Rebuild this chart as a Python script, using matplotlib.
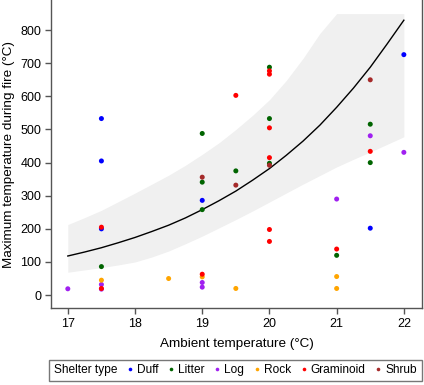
import matplotlib
matplotlib.use('Agg')
import matplotlib.pyplot as plt
from matplotlib.lines import Line2D

plt.rcParams['font.family'] = ['Liberation Sans', 'DejaVu Sans']

# 拟合曲线与置信带
fit_x = [17, 17.25, 17.5, 17.75, 18, 18.25, 18.5, 18.75, 19, 19.25, 19.5,
         19.75, 20, 20.25, 20.5, 20.75, 21, 21.25, 21.5, 21.75, 22]
fit_y = [118, 130, 143, 158, 174, 192, 211, 233, 258, 285, 314,
         347, 382, 422, 465, 513, 567, 625, 688, 758, 830]
band_upper = [213, 234, 256, 282, 308, 335, 362, 392, 425, 460, 500,
              543, 590, 648, 715, 790, 850, 850, 850, 850, 850]
band_lower = [69, 76, 83, 91, 100, 115, 133, 155, 178, 203, 228,
              254, 281, 308, 335, 361, 387, 410, 432, 455, 478]

# 各遮蔽类型的观测点
duff_x = [17.5, 17.5, 17.5, 19, 21.5, 22]
duff_y = [533, 405, 200, 286, 202, 726]
litter_x = [17.5, 19, 19, 19, 19.5, 20, 20, 20, 21, 21.5, 21.5]
litter_y = [86, 488, 341, 258, 375, 688, 533, 398, 120, 516, 400]
log_x = [17, 17.5, 17.5, 19, 19, 21, 21.5, 22]
log_y = [19, 32, 18, 38, 24, 290, 481, 431]
rock_x = [17.5, 18.5, 19, 19.5, 21, 21]
rock_y = [45, 50, 55, 20, 56, 20]
gram_x = [17.5, 17.5, 19, 19.5, 20, 20, 20, 20, 20, 20, 21, 21.5]
gram_y = [205, 20, 63, 603, 677, 667, 505, 415, 198, 162, 139, 434]
shrub_x = [19, 19.5, 20, 21.5]
shrub_y = [356, 332, 392, 650]

groups = [
    ('Duff', duff_x, duff_y, '#0000FF'),
    ('Litter', litter_x, litter_y, '#006400'),
    ('Log', log_x, log_y, '#A020F0'),
    ('Rock', rock_x, rock_y, '#FFA500'),
    ('Graminoid', gram_x, gram_y, '#FF0000'),
    ('Shrub', shrub_x, shrub_y, '#A52A2A'),
]

fig = plt.figure(figsize=(4.24, 3.85), dpi=100)
ax = fig.add_axes([0.1203, 0.2, 0.8750, 0.8])

# 置信带和拟合曲线
ax.fill_between(fit_x, band_lower, band_upper, color='#F0F0F0', linewidth=0, zorder=1)
ax.plot(fit_x, fit_y, color='black', linewidth=1.0, zorder=2)

# 散点
for name, xs, ys, color in groups:
    ax.scatter(xs, ys, s=13, color=color, edgecolors='none', zorder=3)

ax.set_xlim(16.75, 22.27)
ax.set_ylim(-39, 891)
ax.set_xticks([17, 18, 19, 20, 21, 22])
ax.set_yticks(range(0, 801, 100))
ax.tick_params(direction='out', length=4, width=1, color='#555555', labelsize=9, pad=3)

ax.spines['top'].set_visible(False)
for side in ['left', 'right', 'bottom']:
    ax.spines[side].set_color('#555555')
    ax.spines[side].set_linewidth(1)

ax.set_xlabel('Ambient temperature (°C)', fontsize=9.7, labelpad=6)
ax.set_ylabel('Maximum temperature during fire (°C)', fontsize=9.7, labelpad=4)

# 图例（标题放在左侧同一行）
handles = [Line2D([], [], marker='o', linestyle='none', markersize=2.6,
                  markerfacecolor=c, markeredgecolor='none', label=n)
           for n, _, _, c in groups]
leg = fig.legend(handles=handles, title='Shelter type', ncol=6, loc='center',
                 bbox_to_anchor=(0.555, 0.038), bbox_transform=fig.transFigure,
                 fontsize=8.6, title_fontsize=8.6, frameon=True, fancybox=False,
                 handlelength=0.5, handletextpad=0.35, columnspacing=0.8,
                 borderpad=0.38, borderaxespad=0, edgecolor='#555555')
leg.get_frame().set_linewidth(1)
box = leg.get_children()[0]
title_box = box.get_children()[0]
hpack = box.get_children()[1]
box._children = [hpack]
hpack._children = [title_box] + hpack.get_children()

plt.savefig('out.png', dpi=100)
plt.close()
